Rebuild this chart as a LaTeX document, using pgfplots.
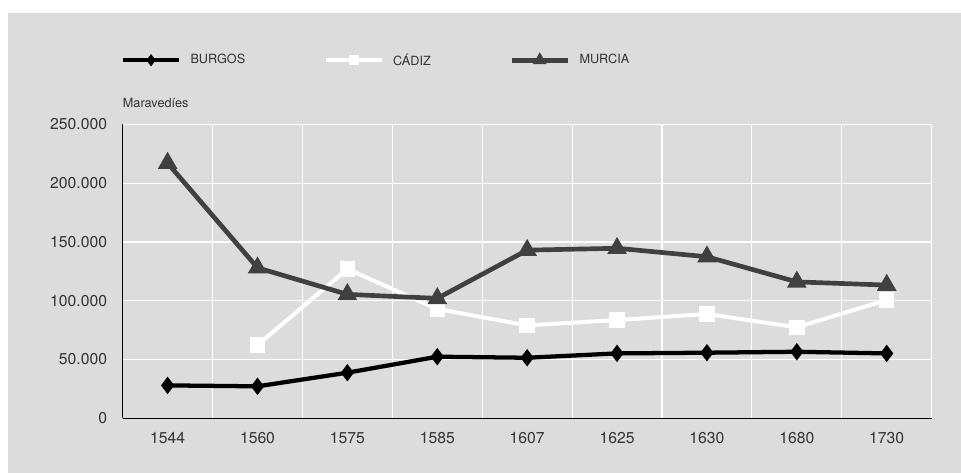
\documentclass[border=0pt]{standalone}
\usepackage{pgfplots}
\pgfplotsset{compat=1.18}
\usepackage{fontspec}
\setmainfont{TeX Gyre Heros}
\definecolor{bg}{HTML}{DCDCDC}
\definecolor{murcia}{HTML}{404040}
\definecolor{txt}{HTML}{333333}
\begin{document}
\begin{tikzpicture}
\fill[white] (0,0) rectangle (720.75pt,354.75pt);
\fill[bg] (6pt,0) rectangle (720.75pt,345pt);
\begin{axis}[
  name=ax,
  at={(92pt,41pt)}, anchor=south west,
  scale only axis, width=606.75pt, height=220.5pt,
  xmin=-0.5, xmax=8.5, ymin=0, ymax=250000,
  scaled y ticks=false,
  xtick={0,...,8},
  xticklabels={1544,1560,1575,1585,1607,1625,1630,1680,1730},
  ytick={0,50000,100000,150000,200000,250000},
  yticklabels={0,50.000,100.000,150.000,200.000,250.000},
  minor xtick={0.5,1.5,...,8.5},
  xminorgrids, ymajorgrids, xmajorgrids=false,
  grid style={white, line width=0.9pt},
  minor grid style={white, line width=0.9pt},
  axis x line*=bottom, axis y line*=left,
  axis line style={black, line width=0.8pt, -},
  major tick length=0pt, minor tick length=0pt,
  tick label style={font=\fontsize{11.8}{14}\selectfont, text=txt, inner sep=0pt},
  xticklabel shift=10.5pt, yticklabel shift=11.5pt,
  legend columns=3,
  legend cell align=left,
  legend style={draw=none, fill=none, at={(-0.0025,1.218)}, anchor=west,
    inner sep=0pt, font=\fontsize{9.5}{11}\selectfont, text=txt,
    nodes={inner sep=0pt},
    /tikz/every odd column/.append style={column sep=7pt},
    /tikz/every even column/.append style={column sep=59pt}},
  legend image code/.code={\draw[mark repeat=2,mark phase=2,mark options={solid,scale=0.5}] plot coordinates {(0pt,0pt) (21pt,0pt) (42pt,0pt)};},
]
\addplot[black, line width=3.2pt, mark=diamond*, mark size=3.9pt, mark options={solid}]
  coordinates {(0,28000) (1,27200) (2,38800) (3,52400) (4,51500) (5,55200) (6,55800) (7,56600) (8,55200)};
\addlegendentry{BURGOS}
\addplot[white, line width=3pt, mark=square*, mark size=4.3pt, mark options={solid}]
  coordinates {(1,62300) (2,127000) (3,93000) (4,79000) (5,83600) (6,88700) (7,77400) (8,100600)};
\addlegendentry{CÁDIZ}
\addplot[murcia, line width=3.5pt, mark=triangle*, mark size=5pt, mark options={solid}]
  coordinates {(0,217000) (1,128000) (2,105400) (3,102000) (4,143000) (5,144600) (6,137400) (7,116000) (8,113300)};
\addlegendentry{MURCIA}
\end{axis}
\node[anchor=west, inner sep=0pt, font=\fontsize{9.5}{11}\selectfont, text=txt] at ([yshift=16pt]ax.north west) {Maravedíes};
\end{tikzpicture}
\end{document}
